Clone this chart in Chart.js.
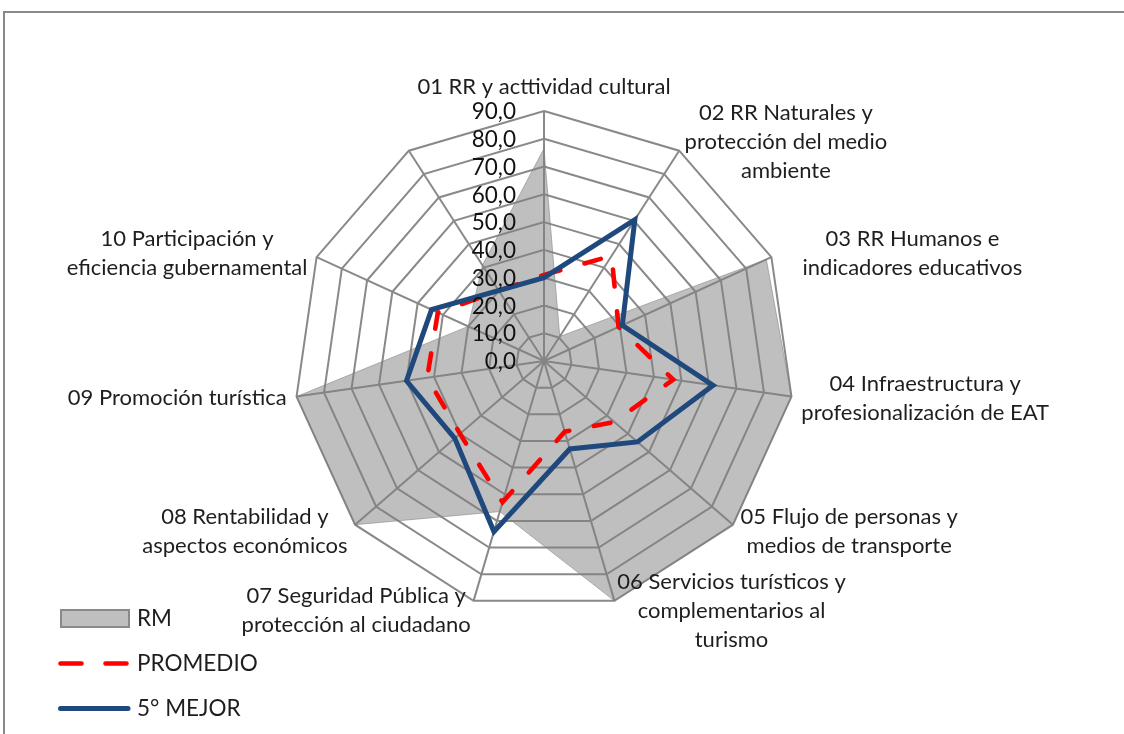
<!DOCTYPE html>
<html>
<head>
<meta charset="utf-8">
<script src="https://cdn.jsdelivr.net/npm/chart.js@4.4.1/dist/chart.umd.min.js"></script>
<style>
  html, body { margin: 0; padding: 0; background: #ffffff; }
  canvas { display: block; }
</style>
</head>
<body>
<canvas id="radar" width="1124" height="734"></canvas>
<script>
// Axis categories (the eleventh spoke carries no label)
const categories = [
  '01 RR y acttividad cultural',
  ['02 RR Naturales y', 'protección del medio', 'ambiente'],
  ['03 RR Humanos e', 'indicadores educativos'],
  ['04 Infraestructura y', 'profesionalización de EAT'],
  ['05 Flujo de personas y', 'medios de transporte'],
  ['06 Servicios turísticos y', 'complementarios al', 'turismo'],
  ['07 Seguridad Pública y', 'protección al ciudadano'],
  ['08 Rentabilidad y', 'aspectos económicos'],
  '09 Promoción turística',
  ['10 Participación y', 'eficiencia gubernamental'],
  ''
];

const seriesNames = ['RM', 'PROMEDIO', '5° MEJOR'];

const rmValues       = [76.5, 10.5, 88, 90, 90, 90, 56.5, 90, 90, 30, 41];
const promedioValues = [31, 45, 29.5, 47, 33.5, 26.5, 53, 40, 42.5, 42, null];
const mejorValues    = [30, 60.5, 31, 61.5, 44.5, 33, 64, 42.5, 50, 44.5, null];

const tickValues = [0, 10, 20, 30, 40, 50, 60, 70, 80, 90];
const tickLabels = ['0,0', '10,0', '20,0', '30,0', '40,0', '50,0', '60,0', '70,0', '80,0', '90,0'];

const FONT_FAMILY = 'Lato, "Open Sans", sans-serif';
const TEXT_COLOR = '#1e1e1e';
const GRID_COLOR = '#898989';

// Category labels: centred lines, box placed just outside each spoke end
const labelNudge = { 2: [22, 0] };
const axisLabelPlugin = {
  id: 'axisLabels',
  afterDatasetsDraw(chart) {
    const scale = chart.scales.r;
    const ctx = chart.ctx;
    const lineH = 29;
    ctx.save();
    ctx.font = '22px ' + FONT_FAMILY;
    ctx.fillStyle = TEXT_COLOR;
    ctx.textAlign = 'center';
    ctx.textBaseline = 'middle';
    categories.forEach((label, i) => {
      const lines = Array.isArray(label) ? label : [label];
      if (!lines.join('')) return;
      const ang = scale.getIndexAngle(i);
      const s = Math.sin(ang), c = Math.cos(ang);
      const anchor = scale.getPointPosition(i, scale.drawingArea + 10);
      const boxW = Math.max(...lines.map(t => ctx.measureText(t).width));
      const boxH = lines.length * lineH;
      let cx, cy;
      if (Math.abs(s) < 0.05) {
        cx = anchor.x;
        cy = c > 0 ? anchor.y - boxH / 2 : anchor.y + boxH / 2;
      } else {
        cx = s > 0 ? anchor.x + boxW / 2 : anchor.x - boxW / 2;
        cy = anchor.y;
      }
      const n = labelNudge[i];
      if (n) { cx += n[0]; cy += n[1]; }
      lines.forEach((t, k) => ctx.fillText(t, cx, cy - boxH / 2 + lineH * (k + 0.5)));
    });
    ctx.restore();
  }
};

// Value ticks along the first spoke, right-aligned to its left
const tickLabelPlugin = {
  id: 'tickLabels',
  afterDatasetsDraw(chart) {
    const scale = chart.scales.r;
    const ctx = chart.ctx;
    ctx.save();
    ctx.font = '22.5px ' + FONT_FAMILY;
    ctx.fillStyle = '#111111';
    ctx.textAlign = 'right';
    ctx.textBaseline = 'middle';
    tickValues.forEach((v, k) => {
      const p = scale.getPointPositionForValue(0, v);
      ctx.fillText(tickLabels[k], p.x - 28, p.y + 1);
    });
    ctx.restore();
  }
};

// Frame along the top and left edges plus the legend block
const frameLegendPlugin = {
  id: 'frameLegend',
  beforeDraw(chart) {
    const ctx = chart.ctx;
    ctx.save();
    ctx.fillStyle = '#ffffff';
    ctx.fillRect(0, 0, chart.width, chart.height);
    ctx.strokeStyle = GRID_COLOR;
    ctx.lineWidth = 2;
    ctx.beginPath();
    ctx.moveTo(4, chart.height);
    ctx.lineTo(4, 12);
    ctx.lineTo(chart.width, 12);
    ctx.stroke();
    ctx.restore();
  },
  afterDraw(chart) {
    const ctx = chart.ctx;
    const ds = chart.data.datasets;
    ctx.save();
    // RM swatch
    ctx.fillStyle = ds[0].backgroundColor;
    ctx.fillRect(61, 610, 68, 17);
    ctx.strokeStyle = '#8a8a8a';
    ctx.lineWidth = 2;
    ctx.strokeRect(61, 610, 68, 17);
    // PROMEDIO sample
    ctx.strokeStyle = ds[1].borderColor;
    ctx.lineWidth = ds[1].borderWidth;
    ctx.lineCap = 'round';
    ctx.setLineDash([21, 24]);
    ctx.beginPath();
    ctx.moveTo(60.5, 663.5);
    ctx.lineTo(126.5, 663.5);
    ctx.stroke();
    // 5° MEJOR sample
    ctx.setLineDash([]);
    ctx.strokeStyle = ds[2].borderColor;
    ctx.lineWidth = ds[2].borderWidth;
    ctx.beginPath();
    ctx.moveTo(60.5, 708.5);
    ctx.lineTo(128, 708.5);
    ctx.stroke();
    // names
    ctx.font = '22.5px ' + FONT_FAMILY;
    ctx.fillStyle = TEXT_COLOR;
    ctx.textAlign = 'left';
    ctx.textBaseline = 'middle';
    const rows = [619, 664, 709];
    seriesNames.forEach((name, k) => ctx.fillText(name, 137, rows[k]));
    ctx.restore();
  }
};

new Chart(document.getElementById('radar'), {
  type: 'radar',
  data: {
    labels: categories,
    datasets: [
      {
        label: seriesNames[0],
        data: rmValues,
        backgroundColor: 'rgba(128,128,128,0.5)',
        borderColor: 'rgba(128,128,128,0.55)',
        borderWidth: 1,
        fill: 'origin',
        pointRadius: 0,
        order: 3
      },
      {
        label: seriesNames[1],
        data: promedioValues,
        borderColor: '#ff0000',
        borderWidth: 4.6,
        borderDash: [17, 25],
        borderCapStyle: 'round',
        fill: false,
        spanGaps: true,
        pointRadius: 0,
        order: 2
      },
      {
        label: seriesNames[2],
        data: mejorValues,
        borderColor: '#1f497d',
        borderWidth: 5,
        fill: false,
        spanGaps: true,
        pointRadius: 0,
        order: 1
      }
    ]
  },
  options: {
    responsive: false,
    animation: false,
    devicePixelRatio: 1,
    layout: { padding: { left: 294, right: 330, top: 111, bottom: 123 } },
    elements: { line: { tension: 0 } },
    plugins: {
      legend: { display: false },
      tooltip: { enabled: false },
      title: { display: false }
    },
    scales: {
      r: {
        min: 0,
        max: 90,
        ticks: { stepSize: 10, display: false },
        grid: { color: GRID_COLOR, lineWidth: 2, circular: false },
        angleLines: { color: GRID_COLOR, lineWidth: 2 },
        pointLabels: { display: false }
      }
    }
  },
  plugins: [frameLegendPlugin, axisLabelPlugin, tickLabelPlugin]
});
</script>
</body>
</html>
